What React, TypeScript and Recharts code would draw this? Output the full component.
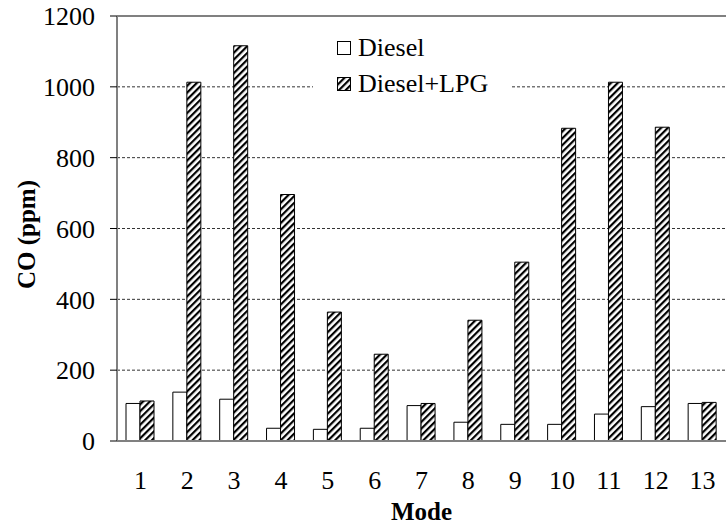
import { Bar, BarChart, CartesianGrid, Legend, ReferenceLine, XAxis, YAxis } from "recharts";

// CO emissions per test mode, diesel vs diesel+LPG dual fuel
const MODES = ["1", "2", "3", "4", "5", "6", "7", "8", "9", "10", "11", "12", "13"];
const DIESEL = [106, 138, 118, 36, 33, 36, 100, 53, 47, 47, 76, 97, 106];
const DIESEL_LPG = [113, 1013, 1116, 696, 364, 245, 106, 341, 505, 883, 1013, 886, 109];
const Y_TICKS = [0, 200, 400, 600, 800, 1000, 1200];
const MODE_EDGES = [0, 1, 2, 3, 4, 5, 6, 7, 8, 9, 10, 11, 12, 13];

const data = MODES.map((mode, i) => ({ mode, diesel: DIESEL[i], lpg: DIESEL_LPG[i] }));

const FONT = '"Liberation Serif", "Times New Roman", serif';
const AXIS_GRAY = "#808080";
const TICK_SIZE = 26;
const TITLE_SIZE = 25;

const HatchDefs = () => (
  <svg width={0} height={0} style={{ position: "absolute" }}>
    <defs>
      <pattern
        id="lpgHatch"
        patternUnits="userSpaceOnUse"
        width={4.8}
        height={4.8}
        patternTransform="rotate(45)"
      >
        <rect width={4.8} height={4.8} fill="#fff" />
        <rect width={2.2} height={4.8} fill="#000" />
      </pattern>
    </defs>
  </svg>
);

const LegendBox = () => (
  <div
    style={{
      background: "#fff",
      width: 197,
      padding: "2px 0 4px 24px",
      boxSizing: "border-box",
      fontFamily: FONT,
      fontSize: TICK_SIZE,
      color: "#000",
      lineHeight: "36px",
    }}
  >
    <div style={{ display: "flex", alignItems: "center" }}>
      <svg width={14} height={14} style={{ marginRight: 7 }}>
        <rect x={0.5} y={0.5} width={13} height={13} fill="#fff" stroke="#000" />
      </svg>
      Diesel
    </div>
    <div style={{ display: "flex", alignItems: "center" }}>
      <svg width={14} height={14} style={{ marginRight: 7 }}>
        <rect x={0.5} y={0.5} width={13} height={13} fill="url(#lpgHatch)" stroke="#000" />
      </svg>
      Diesel+LPG
    </div>
  </div>
);

const YLabel = ({ viewBox }: any) => {
  const x = viewBox.x + 26;
  const y = viewBox.y + viewBox.height / 2 + 6;
  return (
    <text
      x={x}
      y={y}
      transform={`rotate(-90 ${x} ${y})`}
      textAnchor="middle"
      dominantBaseline="central"
      fontFamily={FONT}
      fontSize={TITLE_SIZE}
      fontWeight="bold"
      fill="#000"
    >
      CO (ppm)
    </text>
  );
};

const XLabel = ({ viewBox }: any) => (
  <text
    x={viewBox.x + viewBox.width / 2}
    y={viewBox.y + 79}
    textAnchor="middle"
    fontFamily={FONT}
    fontSize={TITLE_SIZE}
    fontWeight="bold"
    fill="#000"
  >
    Mode
  </text>
);

export default function App() {
  return (
    <div style={{ position: "absolute", left: 0, top: 0, width: 726, height: 524, background: "#fff", overflow: "hidden" }}>
      <HatchDefs />
      <BarChart
        width={726}
        height={524}
        data={data}
        margin={{ top: 16, right: 0, bottom: 0, left: 0 }}
        barGap={0}
        barSize={14}
      >
        <CartesianGrid vertical={false} stroke="#333" strokeDasharray="3 2" />
        {/* numeric axis used only for tick marks at the mode boundaries */}
        <XAxis
          xAxisId="edges"
          type="number"
          domain={[0, 13]}
          ticks={MODE_EDGES}
          height={0}
          tick={false}
          tickSize={8}
          tickLine={{ stroke: "#000" }}
          axisLine={false}
          allowDataOverflow
        />
        <XAxis
          xAxisId="mode"
          dataKey="mode"
          height={83}
          tickLine={false}
          axisLine={{ stroke: AXIS_GRAY, strokeWidth: 2 }}
          tickMargin={24}
          tick={{ fontFamily: FONT, fontSize: TICK_SIZE, fill: "#000" }}
          interval={0}
          label={<XLabel />}
        />
        <YAxis
          width={117}
          domain={[0, 1200]}
          ticks={Y_TICKS}
          interval={0}
          tickSize={7}
          tickMargin={15}
          tickLine={{ stroke: "#000" }}
          axisLine={{ stroke: AXIS_GRAY, strokeWidth: 2 }}
          tick={{ fontFamily: FONT, fontSize: TICK_SIZE, fill: "#000" }}
          label={<YLabel />}
        />
        <ReferenceLine y={1200} xAxisId="mode" stroke={AXIS_GRAY} strokeWidth={2} />
        <Legend
          layout="horizontal"
          verticalAlign="middle"
          align="center"
          content={() => <LegendBox />}
          wrapperStyle={{ left: 313, top: 28, width: 197 }}
        />
        <Bar
          xAxisId="mode"
          dataKey="diesel"
          name="Diesel"
          fill="#fff"
          stroke="#000"
          strokeWidth={1}
          isAnimationActive={false}
        />
        <Bar
          xAxisId="mode"
          dataKey="lpg"
          name="Diesel+LPG"
          fill="url(#lpgHatch)"
          stroke="#000"
          strokeWidth={1}
          isAnimationActive={false}
        />
      </BarChart>
    </div>
  );
}
